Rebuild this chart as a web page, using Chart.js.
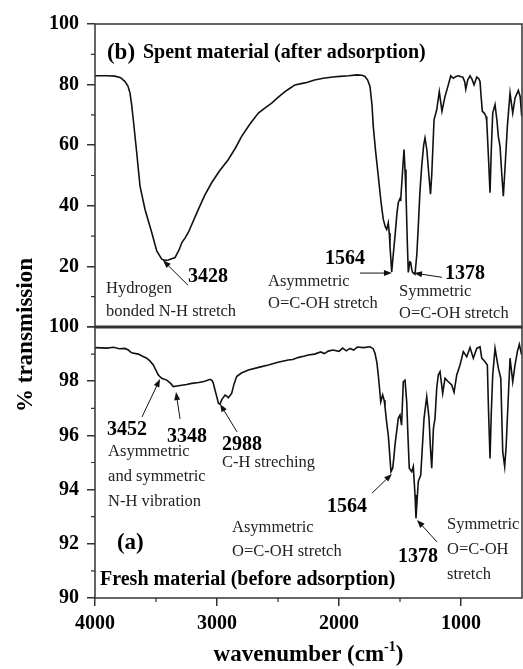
<!DOCTYPE html>
<html>
<head>
<meta charset="utf-8">
<script src="https://cdn.jsdelivr.net/npm/chart.js@4.4.1/dist/chart.umd.min.js"></script>
<style>
  html, body { margin: 0; padding: 0; background: #fff; }
  #wrap { position: relative; width: 523px; height: 669px; }
</style>
</head>
<body>
<div id="wrap"><canvas id="ftirChart" width="523" height="669"></canvas></div>
<script>
// (b) spent material, after adsorption
const spentWavenumber = [4000, 3900, 3836, 3790, 3754, 3730, 3713, 3700, 3686, 3658, 3631, 3590, 3535, 3494, 3453, 3428, 3399, 3344, 3310, 3289, 3260, 3235, 3153, 3100, 3044, 2980, 2907, 2850, 2798, 2730, 2661, 2600, 2552, 2500, 2443, 2402, 2361, 2300, 2265, 2200, 2129, 2050, 1992, 1920, 1855, 1810, 1787, 1765, 1746, 1730, 1719, 1700, 1678, 1655, 1637, 1620, 1609, 1596, 1588, 1582, 1568, 1555, 1541, 1525, 1514, 1500, 1494, 1478, 1467, 1459, 1451, 1440, 1432, 1420, 1412, 1404, 1396, 1377, 1362, 1350, 1336, 1322, 1306, 1295, 1280, 1265, 1250, 1240, 1221, 1199, 1178, 1156, 1131, 1104, 1084, 1063, 1040, 1022, 1000, 986, 970, 961, 945, 926, 910, 893, 871, 855, 844, 835, 825, 809, 795, 789, 775, 762, 752, 740, 721, 705, 694, 680, 665, 653, 640, 620, 598, 576, 557, 530, 515, 502];
const spentTransmission = [82.9, 82.9, 82.8, 82.3, 81.0, 79.5, 77.2, 73.5, 68.4, 57.5, 46.5, 38.8, 31.2, 25.1, 22.4, 22.0, 22.1, 22.9, 25.5, 27.8, 29.5, 31.2, 38.8, 43.5, 47.6, 51.5, 55.3, 59.0, 62.9, 67.0, 70.6, 72.5, 73.9, 75.8, 77.7, 78.8, 79.9, 80.4, 80.7, 81.5, 82.1, 82.5, 82.7, 82.9, 83.2, 83.1, 82.7, 81.5, 79.4, 73.5, 66.2, 58.0, 49.8, 41.0, 35.5, 33.0, 32.2, 34.4, 31.0, 26.7, 18.2, 24.0, 30.0, 37.5, 41.0, 42.4, 42.1, 52.0, 58.6, 52.0, 44.3, 28.0, 18.0, 21.5, 21.3, 19.0, 18.0, 17.4, 24.0, 33.3, 45.0, 53.1, 60.0, 62.4, 58.5, 51.0, 43.8, 50.0, 68.4, 71.7, 77.7, 71.2, 76.1, 79.9, 82.9, 82.1, 82.7, 82.9, 82.6, 82.5, 81.0, 78.5, 81.5, 82.9, 81.8, 79.9, 82.5, 82.0, 81.0, 76.0, 71.2, 70.6, 69.5, 67.9, 56.0, 44.3, 58.0, 70.6, 73.4, 68.0, 62.9, 59.6, 50.0, 43.2, 52.0, 66.2, 77.2, 70.6, 75.6, 78.1, 76.0, 69.5];

// (a) fresh material, before adsorption
const freshWavenumber = [4000, 3900, 3850, 3800, 3754, 3727, 3700, 3645, 3610, 3576, 3550, 3522, 3500, 3481, 3453, 3412, 3380, 3358, 3317, 3250, 3207, 3150, 3100, 3057, 3040, 3030, 3015, 3002, 2988, 2975, 2962, 2934, 2920, 2907, 2880, 2860, 2839, 2800, 2743, 2650, 2579, 2500, 2416, 2380, 2330, 2290, 2252, 2200, 2150, 2120, 2088, 2050, 2000, 1970, 1940, 1910, 1880, 1850, 1800, 1746, 1720, 1705, 1690, 1678, 1665, 1658, 1642, 1630, 1623, 1610, 1596, 1574, 1560, 1550, 1541, 1514, 1500, 1487, 1473, 1459, 1445, 1435, 1424, 1404, 1391, 1377, 1369, 1360, 1350, 1330, 1315, 1303, 1281, 1262, 1250, 1240, 1226, 1213, 1199, 1186, 1172, 1150, 1131, 1104, 1076, 1057, 1035, 1008, 981, 953, 926, 899, 871, 844, 830, 803, 784, 775, 762, 752, 740, 721, 694, 674, 658, 642, 630, 620, 598, 576, 557, 538, 522, 503];
const freshTransmission = [99.24, 99.22, 99.25, 99.20, 99.21, 99.15, 99.05, 99.00, 98.92, 98.85, 98.75, 98.60, 98.40, 98.23, 98.11, 98.04, 97.92, 97.80, 97.83, 97.88, 97.92, 97.95, 98.00, 98.07, 98.02, 97.92, 97.65, 97.43, 97.18, 97.15, 97.31, 97.49, 97.45, 97.39, 97.55, 97.90, 98.17, 98.30, 98.41, 98.52, 98.60, 98.70, 98.78, 98.80, 98.88, 98.92, 98.97, 99.00, 99.08, 99.02, 99.11, 99.15, 99.10, 99.22, 99.12, 99.21, 99.15, 99.26, 99.24, 99.27, 99.20, 99.03, 98.70, 98.23, 97.60, 97.24, 97.49, 97.30, 97.06, 96.50, 96.01, 94.66, 94.79, 95.20, 95.65, 96.63, 96.75, 96.38, 97.98, 98.04, 97.24, 96.00, 94.79, 94.66, 94.85, 93.80, 92.94, 93.60, 94.30, 94.54, 95.70, 96.63, 97.43, 96.63, 95.50, 94.79, 96.26, 96.63, 97.74, 98.23, 98.35, 97.55, 98.11, 97.98, 97.86, 97.59, 98.23, 98.60, 99.09, 98.90, 99.24, 98.85, 99.21, 99.27, 98.85, 98.72, 98.60, 97.00, 95.15, 96.80, 98.23, 99.21, 98.48, 98.11, 95.40, 94.85, 95.60, 96.63, 98.85, 97.98, 98.60, 99.09, 99.36, 98.97];

// tick labels
const xTickLabels = [4000, 3000, 2000, 1000];
const spentTickLabels = [0, 20, 40, 60, 80, 100];
const freshTickLabels = [90, 92, 94, 96, 98, 100];

// peak labels, placed in data units (wavenumber, % transmission)
const annotationLabels = [
  { axis: 'ySpent', x: 3902, y: 90.5, text: '(b)', bold: true, size: 23 },
  { axis: 'ySpent', x: 3607, y: 90.5, text: 'Spent material (after adsorption)', bold: true, size: 20 },
  { axis: 'ySpent', x: 3238, y: 16.4, text: '3428', bold: true, size: 20 },
  { axis: 'ySpent', x: 3910, y: 12.8, text: 'Hydrogen' },
  { axis: 'ySpent', x: 3910, y: 4.9, text: 'bonded N-H stretch' },
  { axis: 'ySpent', x: 2115, y: 22.4, text: '1564', bold: true, size: 20 },
  { axis: 'ySpent', x: 2582, y: 15.1, text: 'Asymmetric' },
  { axis: 'ySpent', x: 2582, y: 7.6, text: 'O=C-OH stretch' },
  { axis: 'ySpent', x: 1131, y: 17.4, text: '1378', bold: true, size: 20 },
  { axis: 'ySpent', x: 1508, y: 11.8, text: 'Symmetric' },
  { axis: 'ySpent', x: 1508, y: 4.3, text: 'O=C-OH stretch' },

  { axis: 'yFresh', x: 3902, y: 96.20, text: '3452', bold: true, size: 20 },
  { axis: 'yFresh', x: 3410, y: 95.94, text: '3348', bold: true, size: 20 },
  { axis: 'yFresh', x: 2959, y: 95.65, text: '2988', bold: true, size: 20 },
  { axis: 'yFresh', x: 3893, y: 95.39, text: 'Asymmetric' },
  { axis: 'yFresh', x: 3893, y: 94.46, text: 'and symmetric' },
  { axis: 'yFresh', x: 3893, y: 93.54, text: 'N-H vibration' },
  { axis: 'yFresh', x: 2959, y: 94.98, text: 'C-H streching' },
  { axis: 'yFresh', x: 2098, y: 93.36, text: '1564', bold: true, size: 20 },
  { axis: 'yFresh', x: 2877, y: 92.58, text: 'Asymmetric' },
  { axis: 'yFresh', x: 2877, y: 91.70, text: 'O=C-OH stretch' },
  { axis: 'yFresh', x: 1516, y: 91.51, text: '1378', bold: true, size: 20 },
  { axis: 'yFresh', x: 1115, y: 92.69, text: 'Symmetric' },
  { axis: 'yFresh', x: 1115, y: 91.77, text: 'O=C-OH' },
  { axis: 'yFresh', x: 1115, y: 90.85, text: 'stretch' },
  { axis: 'yFresh', x: 3820, y: 92.03, text: '(a)', bold: true, size: 23 },
  { axis: 'yFresh', x: 3959, y: 90.66, text: 'Fresh material (before adsorption)', bold: true, size: 20 }
];

const annotationArrows = [
  { axis: 'ySpent', from: [3238, 13.8], to: [3443, 22.0] },
  { axis: 'ySpent', from: [1828, 17.8], to: [1566, 17.8] },
  { axis: 'ySpent', from: [1156, 16.4], to: [1385, 17.8] },
  { axis: 'yFresh', from: [3615, 96.68], to: [3467, 98.08] },
  { axis: 'yFresh', from: [3303, 96.61], to: [3336, 97.60] },
  { axis: 'yFresh', from: [2836, 96.13], to: [2975, 97.16] },
  { axis: 'yFresh', from: [1729, 93.87], to: [1566, 94.58] },
  { axis: 'yFresh', from: [1197, 92.07], to: [1361, 92.88] }
];

const SERIF = "'Liberation Serif', 'Times New Roman', serif";
const FRAME = '#333';

function toPoints(xs, ys) {
  return xs.map((x, i) => ({ x: x, y: ys[i] }));
}

function drawArrow(ctx, x1, y1, x2, y2) {
  const ang = Math.atan2(y2 - y1, x2 - x1);
  const len = 8, half = 3;
  ctx.beginPath();
  ctx.moveTo(x1, y1);
  ctx.lineTo(x2 - Math.cos(ang) * len * 0.6, y2 - Math.sin(ang) * len * 0.6);
  ctx.stroke();
  ctx.beginPath();
  ctx.moveTo(x2, y2);
  ctx.lineTo(x2 - Math.cos(ang) * len + Math.sin(ang) * half, y2 - Math.sin(ang) * len - Math.cos(ang) * half);
  ctx.lineTo(x2 - Math.cos(ang) * len - Math.sin(ang) * half, y2 - Math.sin(ang) * len + Math.cos(ang) * half);
  ctx.closePath();
  ctx.fill();
}

// frames, minor ticks, axis titles and peak labels
const ftirDecor = {
  id: 'ftirDecor',
  afterDraw(chart) {
    const { ctx, chartArea, scales } = chart;
    const x = scales.x;
    ctx.save();

    // panel boxes
    ctx.strokeStyle = FRAME;
    ctx.lineWidth = 1.5;
    ['ySpent', 'yFresh'].forEach(id => {
      const s = scales[id];
      ctx.strokeRect(chartArea.left, s.top, chartArea.right - chartArea.left, s.bottom - s.top);
    });
    ctx.lineWidth = 3;
    ctx.beginPath();
    ctx.moveTo(chartArea.left, scales.yFresh.top);
    ctx.lineTo(chartArea.right, scales.yFresh.top);
    ctx.stroke();

    // minor ticks
    ctx.lineWidth = 1.2;
    ctx.beginPath();
    for (let v = 10; v < 100; v += 20) {
      const py = scales.ySpent.getPixelForValue(v);
      ctx.moveTo(chartArea.left - 4, py); ctx.lineTo(chartArea.left, py);
    }
    for (let v = 91; v < 100; v += 2) {
      const py = scales.yFresh.getPixelForValue(v);
      ctx.moveTo(chartArea.left - 4, py); ctx.lineTo(chartArea.left, py);
    }
    for (let v = 1500; v < 4000; v += 1000) {
      const px = x.getPixelForValue(v);
      ctx.moveTo(px, chartArea.bottom); ctx.lineTo(px, chartArea.bottom + 4);
    }
    ctx.stroke();

    // peak labels
    ctx.textBaseline = 'middle';
    ctx.textAlign = 'left';
    annotationLabels.forEach(a => {
      const s = scales[a.axis];
      ctx.font = (a.bold ? 'bold ' : '') + (a.size || 16.5) + 'px ' + SERIF;
      ctx.fillStyle = a.bold ? '#000' : '#222';
      ctx.fillText(a.text, x.getPixelForValue(a.x), s.getPixelForValue(a.y));
    });

    ctx.strokeStyle = '#111';
    ctx.fillStyle = '#111';
    ctx.lineWidth = 1;
    annotationArrows.forEach(a => {
      const s = scales[a.axis];
      drawArrow(ctx,
        x.getPixelForValue(a.from[0]), s.getPixelForValue(a.from[1]),
        x.getPixelForValue(a.to[0]), s.getPixelForValue(a.to[1]));
    });

    // axis titles
    ctx.fillStyle = '#000';
    ctx.font = 'bold 23px ' + SERIF;
    ctx.save();
    ctx.translate(26, (scales.ySpent.top + scales.yFresh.bottom) / 2 + 24);
    ctx.rotate(-Math.PI / 2);
    ctx.textAlign = 'center';
    ctx.textBaseline = 'middle';
    ctx.fillText('% transmission', 0, 0);
    ctx.restore();

    const main = 'wavenumber (cm', sup = '-1', tail = ')';
    ctx.font = 'bold 23px ' + SERIF;
    const wMain = ctx.measureText(main).width, wTail = ctx.measureText(tail).width;
    ctx.font = 'bold 14px ' + SERIF;
    const wSup = ctx.measureText(sup).width;
    const cx = (chartArea.left + chartArea.right) / 2;
    let tx = cx - (wMain + wSup + wTail) / 2;
    const base = 661;
    ctx.textAlign = 'left';
    ctx.textBaseline = 'alphabetic';
    ctx.font = 'bold 23px ' + SERIF;
    ctx.fillText(main, tx, base);
    tx += wMain;
    ctx.font = 'bold 14px ' + SERIF;
    ctx.fillText(sup, tx, base - 10);
    tx += wSup;
    ctx.font = 'bold 23px ' + SERIF;
    ctx.fillText(tail, tx, base);

    ctx.restore();
  }
};

const tickFont = { family: SERIF, size: 20, weight: 'bold' };

function fixedTicks(values) {
  return s => { s.ticks = values.map(v => ({ value: v })); };
}

new Chart(document.getElementById('ftirChart'), {
  type: 'line',
  data: {
    datasets: [
      {
        label: 'Spent material (after adsorption)',
        data: toPoints(spentWavenumber, spentTransmission),
        yAxisID: 'ySpent',
        borderColor: '#111',
        borderWidth: 1.6,
        pointRadius: 0,
        tension: 0
      },
      {
        label: 'Fresh material (before adsorption)',
        data: toPoints(freshWavenumber, freshTransmission),
        yAxisID: 'yFresh',
        borderColor: '#111',
        borderWidth: 1.6,
        pointRadius: 0,
        tension: 0
      }
    ]
  },
  options: {
    responsive: false,
    animation: false,
    devicePixelRatio: 1,
    layout: { padding: { top: 24, right: 1, left: 0, bottom: 0 } },
    plugins: { legend: { display: false }, tooltip: { enabled: false } },
    scales: {
      x: {
        type: 'linear',
        reverse: true,
        min: 500,
        max: 4000,
        afterBuildTicks: fixedTicks(xTickLabels),
        afterFit: s => { s.height = 71; s.paddingLeft = 0; s.paddingRight = 0; },
        border: { display: false },
        grid: { drawOnChartArea: false, tickLength: 8, color: FRAME, lineWidth: 1.5 },
        ticks: {
          padding: 6,
          color: '#000',
          font: tickFont,
          maxRotation: 0,
          autoSkip: false,
          callback: v => String(v)
        }
      },
      yFresh: {
        type: 'linear',
        position: 'left',
        stack: 'ftir',
        stackWeight: 271,
        min: 90,
        max: 100,
        afterBuildTicks: fixedTicks(freshTickLabels),
        afterFit: s => { s.width = 95; },
        border: { display: false },
        grid: { drawOnChartArea: false, tickLength: 8, color: FRAME, lineWidth: 1.5 },
        ticks: { padding: 8, color: '#000', font: tickFont, autoSkip: false, callback: v => String(v) }
      },
      ySpent: {
        type: 'linear',
        position: 'left',
        stack: 'ftir',
        stackWeight: 303,
        min: 0,
        max: 100,
        afterBuildTicks: fixedTicks(spentTickLabels),
        afterFit: s => { s.width = 95; },
        border: { display: false },
        grid: { drawOnChartArea: false, tickLength: 8, color: FRAME, lineWidth: 1.5 },
        ticks: {
          padding: 8,
          color: '#000',
          font: tickFont,
          autoSkip: false,
          callback: v => (v === 0 ? '' : String(v))
        }
      }
    }
  },
  plugins: [ftirDecor]
});
</script>
</body>
</html>
